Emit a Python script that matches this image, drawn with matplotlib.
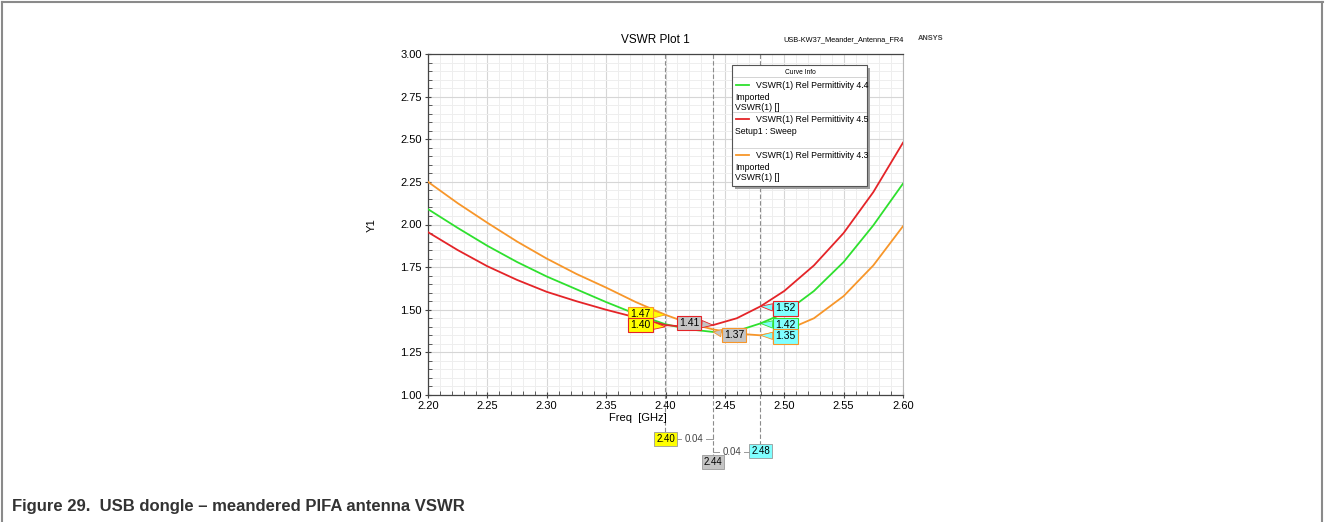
import matplotlib
matplotlib.use("Agg")
import matplotlib.pyplot as plt
from matplotlib.patches import Rectangle
from matplotlib.lines import Line2D
from matplotlib.ticker import MultipleLocator, FormatStrFormatter
import matplotlib.transforms as mtransforms

plt.rcParams['font.family'] = ['Liberation Sans', 'DejaVu Sans']

# frequency sweep (GHz) and VSWR
freq = [2.20, 2.225, 2.25, 2.275, 2.30, 2.325, 2.35, 2.375, 2.40, 2.42,
        2.44, 2.46, 2.48, 2.50, 2.525, 2.55, 2.575, 2.60]
vswr_44 = [2.09, 1.98, 1.875, 1.78, 1.695, 1.62, 1.545, 1.475, 1.415, 1.385,
           1.37, 1.375, 1.42, 1.48, 1.61, 1.78, 1.995, 2.24]
vswr_45 = [1.955, 1.85, 1.755, 1.675, 1.605, 1.55, 1.50, 1.455, 1.41, 1.398,
           1.41, 1.45, 1.52, 1.61, 1.76, 1.95, 2.19, 2.48]
vswr_43 = [2.25, 2.125, 2.01, 1.90, 1.80, 1.71, 1.63, 1.545, 1.47, 1.42,
           1.385, 1.36, 1.35, 1.375, 1.45, 1.58, 1.76, 1.99]

curve_names = ["VSWR(1) Rel Permittivity 4.4",
               "VSWR(1) Rel Permittivity 4.5",
               "VSWR(1) Rel Permittivity 4.3"]
curve_info = [["Imported", "VSWR(1) []"],
              ["Setup1 : Sweep"],
              ["Imported", "VSWR(1) []"]]
GREEN, RED, ORANGE = "#2ee02e", "#e42428", "#f7962a"
curve_colors = [GREEN, RED, ORANGE]

# markers
marker_x = [2.40, 2.44, 2.48]
marker_fill = ["#ffff00", "#c4c4c4", "#80ffff"]
marker_vals = [[1.47, 1.40], [1.41, 1.37], [1.52, 1.42, 1.35]]
marker_edges = [[ORANGE, RED], [RED, ORANGE], [RED, GREEN, ORANGE]]
# label offsets in pixels (dx, dy)
marker_offsets = [[(-25, 1), (-25, 2)], [(-24, 2), (21, -3)],
                  [(25, -2), (25, -2), (25, -1)]]

W, H = 1325, 522
fig = plt.figure(figsize=(W / 100, H / 100), dpi=100)


def fx(px):
    return px / W


def fy(py):
    return 1 - py / H


ax = fig.add_axes([fx(428), fy(395), fx(903) - fx(428), fy(54) - fy(395)])

for vals, col in zip([vswr_44, vswr_45, vswr_43], curve_colors):
    ax.plot(freq, vals, color=col, lw=1.3, zorder=3)

ax.set_xlim(2.20, 2.60)
ax.set_ylim(1.00, 3.00)
ax.xaxis.set_major_locator(MultipleLocator(0.05))
ax.xaxis.set_minor_locator(MultipleLocator(0.01))
ax.yaxis.set_major_locator(MultipleLocator(0.25))
ax.yaxis.set_minor_locator(MultipleLocator(0.05))
ax.xaxis.set_major_formatter(FormatStrFormatter('%.2f'))
ax.yaxis.set_major_formatter(FormatStrFormatter('%.2f'))
ax.grid(which='major', color='#d6d6d6', lw=0.8, zorder=0)
ax.grid(which='minor', color='#eeeeee', lw=0.7, zorder=0)
ax.set_axisbelow(True)
ax.tick_params(which='major', direction='inout', length=5, width=0.8,
               color='#444444', labelsize=8, pad=2)
ax.tick_params(which='minor', direction='in', length=3, width=0.6,
               color='#444444')
ax.tick_params(axis='x', which='both', top=False)
ax.tick_params(axis='y', which='both', right=False)
for s in ['left', 'bottom', 'top']:
    ax.spines[s].set_color('#444444')
    ax.spines[s].set_linewidth(0.9)
ax.spines['right'].set_color('#b8b8b8')

fig.text(fx(372), fy(225), "Y1", rotation=90, ha='center', va='center', fontsize=8)
fig.text(fx(638), fy(418), "Freq  [GHz]", ha='center', va='center', fontsize=8)
fig.text(fx(655), fy(40), "VSWR Plot 1", ha='center', va='center', fontsize=8.5)
fig.text(fx(844), fy(40), "USB-KW37_Meander_Antenna_FR4", ha='center', va='center',
         fontsize=5.3)
fig.text(fx(931), fy(38), "ANSYS", ha='center', va='center', fontsize=5.3,
         fontweight='bold', color='#444444')

# marker dashed lines and callouts
trans = mtransforms.blended_transform_factory(ax.transData, ax.transAxes)
line_ends = [-0.112, -0.18, -0.145]
for mx, yend in zip(marker_x, line_ends):
    ax.plot([mx, mx], [1, yend], transform=trans, color='#8c8c8c', lw=0.8,
            ls=(0, (4, 2)), clip_on=False, zorder=2)

for mx, fill, vals, edges, offs in zip(marker_x, marker_fill, marker_vals,
                                       marker_edges, marker_offsets):
    for v, ec, (dx, dy) in zip(vals, edges, offs):
        ax.annotate(f"{v:.2f}", xy=(mx, v), xytext=(dx * 0.72, dy * 0.72),
                    textcoords='offset points', ha='center', va='center',
                    fontsize=7.5, zorder=6,
                    bbox=dict(boxstyle='square,pad=0.22', fc=fill, ec=ec, lw=0.8),
                    arrowprops=dict(arrowstyle='wedge,tail_width=0.7,shrink_factor=0.5',
                                    fc=fill, ec=ec, lw=0.6, shrinkA=0, shrinkB=0))

# marker x-value boxes and deltas below the axis
box_y = [-0.128, -0.196, -0.164]
for mx, fill, by in zip(marker_x, marker_fill, box_y):
    ax.text(mx, by, f"{mx:.2f}", transform=trans, ha='center', va='center',
            fontsize=7, zorder=6, clip_on=False,
            bbox=dict(boxstyle='square,pad=0.2', fc=fill, ec='#999999', lw=0.6))
delta_y = [-0.129, -0.167]
delta_shift = [0.004, -0.004]
for i, (dy, sh) in enumerate(zip(delta_y, delta_shift)):
    x0, x1 = marker_x[i], marker_x[i + 1]
    ax.plot([x0, x1], [dy, dy], transform=trans, color='#999999', lw=0.7,
            clip_on=False, zorder=1)
    ax.text((x0 + x1) / 2 + sh, dy, f"{x1 - x0:.2f}", transform=trans,
            ha='center', va='center', fontsize=7, color='#444444', clip_on=False,
            zorder=5, bbox=dict(boxstyle='square,pad=0.25', fc='white', ec='none'))

# curve info box
fig.patches.append(Rectangle((fx(735), fy(189)), fx(867) - fx(732), fy(65) - fy(186),
                             transform=fig.transFigure, fc='#a0a0a0', ec='none',
                             zorder=7))
fig.patches.append(Rectangle((fx(732), fy(186)), fx(867) - fx(732), fy(65) - fy(186),
                             transform=fig.transFigure, fc='white', ec='#555555',
                             lw=0.8, zorder=8))
fig.text(fx(800), fy(72), "Curve Info", ha='center', va='center', fontsize=4.8,
         zorder=9)
fig.lines.append(Line2D([fx(733), fx(866)], [fy(77), fy(77)], color='#cccccc',
                        lw=0.6, transform=fig.transFigure, zorder=9))
entry_top = [85, 119, 155]
for i, (name, info, col) in enumerate(zip(curve_names, curve_info, curve_colors)):
    y0 = entry_top[i]
    fig.lines.append(Line2D([fx(736), fx(749)], [fy(y0), fy(y0)], color=col, lw=1.3,
                            transform=fig.transFigure, zorder=9))
    fig.text(fx(756), fy(y0), name, ha='left', va='center', fontsize=6.3, zorder=9)
    for j, t in enumerate(info):
        fig.text(fx(735), fy(y0 + 12 + 11 * j), t, ha='left', va='center',
                 fontsize=6.3, zorder=9)
for sy in [112, 148]:
    fig.lines.append(Line2D([fx(733), fx(866)], [fy(sy), fy(sy)], color='#d0d0d0',
                            lw=0.6, transform=fig.transFigure, zorder=9))

# page frame and caption
for xs, ys in [([2, 1323], [2, 2]), ([2, 2], [2, 522]), ([1322, 1322], [2, 522])]:
    fig.lines.append(Line2D([fx(x) for x in xs], [fy(y) for y in ys], color='#8a8a8a',
                            lw=1.5, transform=fig.transFigure))
fig.text(fx(12), fy(507), "Figure 29.  USB dongle \u2013 meandered PIFA antenna VSWR",
         ha='left', va='center', fontsize=12, fontweight='bold', color='#333333')

fig.savefig("out.png", dpi=100)
